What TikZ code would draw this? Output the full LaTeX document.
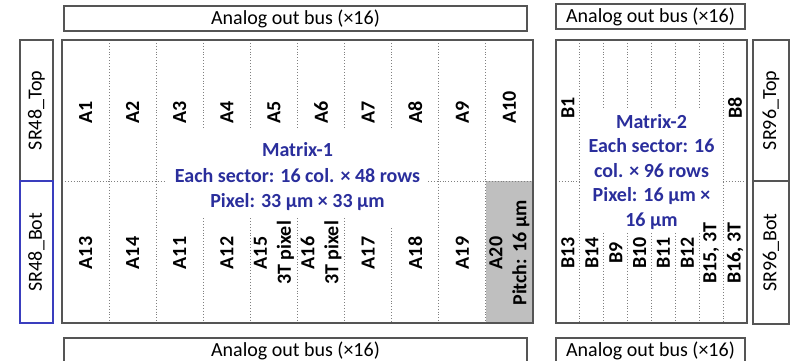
\documentclass[tikz,border=0pt]{standalone}
\usepackage{fontspec}
\setmainfont{Carlito}
\usetikzlibrary{positioning}
\definecolor{matblue}{RGB}{42,46,156}
\definecolor{srblue}{RGB}{58,62,190}
\definecolor{boxgray}{RGB}{85,85,85}
\definecolor{cellgray}{RGB}{191,191,191}

\begin{document}
\begin{tikzpicture}[x=1pt, y=-1pt,
    bus/.style={draw=boxgray, line width=1.2pt, minimum height=25pt, inner sep=0pt,
      font=\fontsize{20}{24}\selectfont},
    matbox/.style={draw=boxgray, line width=2.6pt, inner sep=0pt},
    srbox/.style={draw=boxgray, line width=1.2pt, inner sep=0pt, rotate=90,
      font=\fontsize{20}{24}\selectfont},
    sector/.style={rotate=90, inner sep=0pt, align=center,
      font=\bfseries\fontsize{20}{24}\selectfont},
    sep/.style={draw=gray, dotted, line width=0.9pt},
    info/.style={text=matblue, align=center, inner sep=0pt}]
  \useasboundingbox (0,0) rectangle (790,361);

  % analog out buses
  \node[bus, minimum width=463pt] (busTL) at (295.5,18.5) {Analog out bus (×16)};
  \node[bus, minimum width=189pt] (busTR) at (650.5,16.5) {Analog out bus (×16)};
  \node[bus, minimum width=463pt] (busBL) at (295.5,350.5) {Analog out bus (×16)};
  \node[bus, minimum width=189pt] (busBR) at (650.5,350.5) {Analog out bus (×16)};

  % shift registers
  \node[srbox, minimum width=141pt, minimum height=33pt] (sr48t) at (36.5,110.5) {SR48\_Top};
  \node[srbox, draw=srblue, minimum width=142pt, minimum height=33pt] (sr48b) at (36.5,252) {SR48\_Bot};
  \node[srbox, minimum width=141pt, minimum height=36pt] (sr96t) at (771,110.5) {SR96\_Top};
  \node[srbox, minimum width=143pt, minimum height=36pt] (sr96b) at (771,252.5) {SR96\_Bot};

  % matrix-1
  \fill[cellgray] (486,181) rectangle (533,323);
  \foreach \i in {1,2,8,9}
    \draw[sep] ({62+47.1*\i},40) -- ({62+47.1*\i},181);
  \foreach \i in {3,...,7}
    \draw[sep] ({62+47.1*\i},40) -- ({62+47.1*\i},128);
  \foreach \i in {1,2,8,9}
    \draw[sep] ({62+47.1*\i},181) -- ({62+47.1*\i},323);
  \foreach \i in {3,...,6}
    \draw[sep] ({62+47.1*\i},218) -- ({62+47.1*\i},323);
  \draw[sep] ({62+47.1*7},228) -- ({62+47.1*7},323);
  \draw[sep] (62,181) -- (166,181);
  \draw[sep] (428,181) -- (533,181);
  \node[matbox, minimum width=471pt, minimum height=283pt] (m1) at (297.5,181.5) {};

  \foreach \t [count=\i] in {A1,A2,A3,A4,A5,A6,A7,A8,A9,A10}
    \node[sector, anchor=west] (a\i) at ({62+47.1*(\i-0.5)},124) {\t};
  \foreach \t [count=\i] in {A13,A14,A11,A12,{A15\\3T pixel},{A16\\3T pixel},A17,A18,A19,{A20\\Pitch: 16 µm}}
    \node[sector] (b\i) at ({62+47.1*(\i-0.5)},253) {\t};

  \node[info, font=\bfseries\fontsize{20}{25.5}\selectfont] (m1text) at (297.5,177)
    {Matrix-1\\Each sector: 16 col. × 48 rows\\Pixel: 33 µm × 33 µm};

  % matrix-2
  \foreach \j in {1,7}
    \draw[sep] ({556+23.875*\j},40) -- ({556+23.875*\j},323);
  \foreach \j in {2,...,6}
    \draw[sep] ({556+23.875*\j},40) -- ({556+23.875*\j},108);
  \foreach \j in {2,...,6}
    \draw[sep] ({556+23.875*\j},233) -- ({556+23.875*\j},323);
  \draw[sep] (556,181) -- (580,181);
  \draw[sep] (723,181) -- (747,181);
  \node[matbox, minimum width=191pt, minimum height=283pt] (m2) at (651.5,181.5) {};

  \node[sector, anchor=west] (c1) at ({556+23.875*0.5},119) {B1};
  \node[sector, anchor=west] (c8) at ({556+23.875*7.5},119) {B8};
  \foreach \t [count=\j] in {B13,B14,B9,B10,B11,B12,{B15, 3T},{B16, 3T}}
    \node[sector] (d\j) at ({556+23.875*(\j-0.5)},253) {\t};

  \node[info, font=\bfseries\fontsize{20}{24.5}\selectfont] (m2text) at (651.5,172)
    {Matrix-2\\Each sector: 16\\col. × 96 rows\\Pixel: 16 µm ×\\16 µm};
\end{tikzpicture}
\end{document}
